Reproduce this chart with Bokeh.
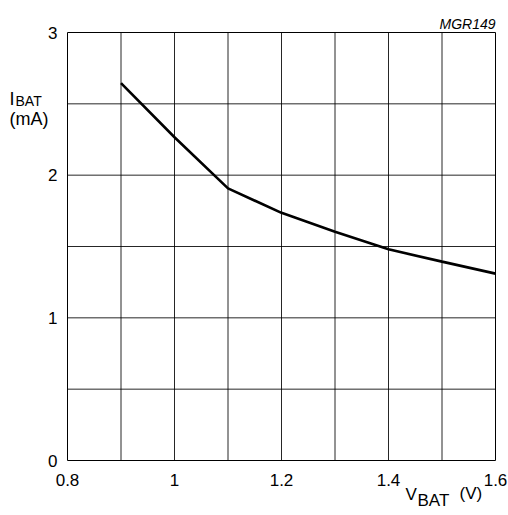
from bokeh.plotting import figure
from bokeh.models import Range1d, FixedTicker, Label, LinearAxis
from bokeh.embed import file_html
from bokeh.resources import INLINE

# ---- data ----
v_bat = [0.9, 1.0, 1.1, 1.2, 1.3, 1.4, 1.5, 1.6]
i_bat = [2.645, 2.266, 1.907, 1.736, 1.604, 1.48, 1.394, 1.31]
x_ticks = [0.8, 1.0, 1.2, 1.4, 1.6]
x_tick_labels = ["0.8", "1", "1.2", "1.4", "1.6"]
y_ticks = [0, 1, 2, 3]
y_tick_labels = ["0", "1", "2", "3"]
x_grid = [0.9, 1.0, 1.1, 1.2, 1.3, 1.4, 1.5]
y_grid = [0.5, 1.0, 1.5, 2.0, 2.5]

X0, X1, Y0, Y1 = 0.8, 1.6, 0.0, 3.0
W, H = 508, 515
# plot-box position inside the canvas (pixels)
PL, PR, PT, PB = 67, 495, 32, 460
FONT = "Liberation Sans"

sx = (X1 - X0) / (PR - PL)
sy = (Y1 - Y0) / (PB - PT)
x_range = Range1d(X0 - PL * sx, X1 + (W - PR) * sx)
y_range = Range1d(Y0 - (H - PB) * sy, Y1 + PT * sy)

p = figure(width=W, height=H, output_backend="svg", toolbar_location=None,
           x_range=x_range, y_range=y_range,
           x_axis_type=None, y_axis_type=None,
           min_border_left=0, min_border_right=0,
           min_border_top=0, min_border_bottom=0)
p.background_fill_color = "white"
p.border_fill_color = "white"
p.outline_line_color = None
p.grid.visible = False

xaxis = LinearAxis(ticker=FixedTicker(ticks=x_ticks), fixed_location=Y0,
                   major_label_overrides={t: s for t, s in zip(x_ticks, x_tick_labels)})
yaxis = LinearAxis(ticker=FixedTicker(ticks=y_ticks), fixed_location=X0,
                   major_label_overrides={t: s for t, s in zip(y_ticks, y_tick_labels)})
for ax in (xaxis, yaxis):
    ax.axis_line_color = None
    ax.major_tick_line_color = None
    ax.minor_tick_line_color = None
    ax.major_tick_out = 0
    ax.major_tick_in = 0
    ax.minor_tick_out = 0
    ax.minor_tick_in = 0
    ax.major_label_text_font = FONT
    ax.major_label_text_font_size = "17px"
    ax.major_label_text_color = "black"
xaxis.major_label_standoff = 13
yaxis.major_label_standoff = 10
p.add_layout(xaxis, "below")
p.add_layout(yaxis, "left")

# grid lines inside the plot box
p.segment(x0=x_grid, y0=[Y0] * len(x_grid), x1=x_grid, y1=[Y1] * len(x_grid),
          line_color="black", line_width=1, line_alpha=0.85)
p.segment(x0=[X0] * len(y_grid), y0=y_grid, x1=[X1] * len(y_grid), y1=y_grid,
          line_color="black", line_width=1, line_alpha=0.85)
# plot-box outline
p.quad(left=[X0], right=[X1], bottom=[Y0], top=[Y1],
       fill_color=None, line_color="black", line_width=1)

p.line(v_bat, i_bat, line_color="black", line_width=2.6)

# helpers: picture pixel -> data coordinates
def dx(px):
    return X0 + (px - PL) * sx

def dy(py):
    return Y1 - (py - PT) * sy

def lab(text, px, py, size, align="left", style="normal"):
    p.add_layout(Label(x=dx(px), y=dy(py), text=text, text_font=FONT,
                       text_font_size=size, text_align=align,
                       text_baseline="alphabetic", text_font_style=style,
                       text_color="black"))

lab("I", 9, 98, "18px")
lab("BAT", 15, 100, "14px")
lab("(mA)", 9, 118, "18px")
lab("V", 405, 494, "17px")
lab("BAT", 417, 500, "17px")
lab("(V)", 459, 493, "17px")
lab("MGR149", 495, 23, "14px", align="right", style="italic")

open("out.html", "w").write(file_html(p, INLINE))
